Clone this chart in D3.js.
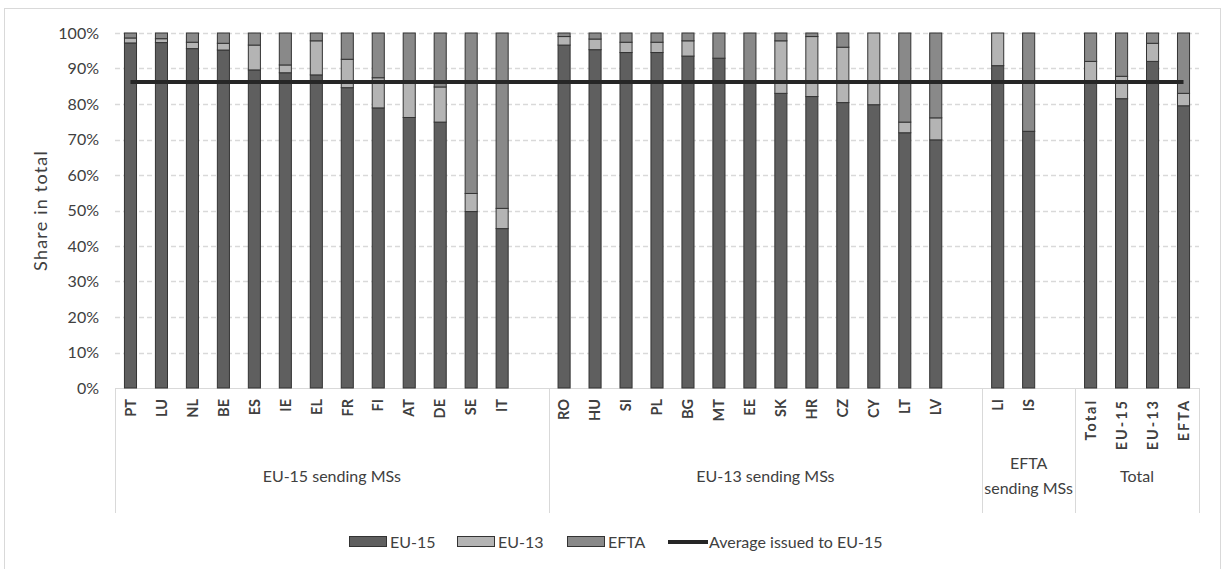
<!DOCTYPE html>
<html>
<head>
<meta charset="utf-8">
<script src="https://cdn.jsdelivr.net/npm/d3@7/dist/d3.min.js"></script>
<style>
  html, body { margin: 0; padding: 0; background: #fff; }
  svg { display: block; font-family: Lato, "Open Sans", sans-serif; }
</style>
</head>
<body>
<svg id="chart" width="1222" height="569"></svg>
<script>
// ---- data ----
const categories = ["PT","LU","NL","BE","ES","IE","EL","FR","FI","AT","DE","SE","IT",
  "RO","HU","SI","PL","BG","MT","EE","SK","HR","CZ","CY","LT","LV",
  "LI","IS",
  "Total","EU-15","EU-13","EFTA"];
const groupLabels = [["EU-15 sending MSs"],["EU-13 sending MSs"],["EFTA","sending MSs"],["Total"]];
const groupSizes = [13, 13, 2, 4];
const eu15 = [97.2,97.3,95.6,95.2,89.6,88.8,88.2,84.6,78.9,76.2,74.9,49.7,44.9,
  96.6,95.3,94.5,94.5,93.5,92.9,86.0,83.0,82.1,80.4,79.8,71.9,69.9,
  90.8,72.3,
  86.2,81.5,92.0,79.5];
const eu13 = [1.4,1.1,1.8,1.9,7.0,2.2,9.6,8.0,8.5,9.8,9.9,5.1,5.7,
  2.4,3.0,2.9,2.9,4.3,0.0,0.0,14.8,16.9,15.6,20.2,3.0,6.2,
  9.2,0.0,
  5.8,6.3,5.1,3.5];
const efta = [1.4,1.6,2.6,2.9,3.4,9.0,2.2,7.4,12.6,14.0,15.2,45.2,49.4,
  1.0,1.7,2.6,2.6,2.2,7.1,14.0,2.2,1.0,4.0,0.0,25.1,23.9,
  0.0,27.7,
  8.0,12.2,2.9,17.0];
const averageEU15 = 86.2;
const yTicks = [0,10,20,30,40,50,60,70,80,90,100];
const seriesNames = ["EU-15","EU-13","EFTA"];
const lineName = "Average issued to EU-15";

// ---- layout ----
const svg = d3.select("#chart");
const plot = {left: 115, right: 1199, top: 33, bottom: 388};
const colors = {"EU-15": "#5f5f5f", "EU-13": "#b4b4b4", "EFTA": "#898989"};
const font = "Lato, 'Open Sans', sans-serif";

// chart border
svg.append("rect").attr("x", 4.5).attr("y", 8.5).attr("width", 1216).attr("height", 580)
  .attr("fill", "none").attr("stroke", "#d9d9d9").attr("stroke-width", 1);

// build slot domain: groups followed by an empty slot (except last)
const slots = [];
const groupRanges = [];
let ci = 0;
groupSizes.forEach((n, g) => {
  const start = slots.length;
  for (let k = 0; k < n; k++) { slots.push("c" + ci); ci++; }
  if (g < groupSizes.length - 1) slots.push("gap" + g);
  groupRanges.push([start, slots.length]);
});

const x = d3.scaleBand().domain(slots).range([plot.left, plot.right])
  .paddingInner(0.61).paddingOuter(0.305);
const y = d3.scaleLinear().domain([0, 100]).range([plot.bottom, plot.top]);

const data = categories.map((c, i) => ({key: "c" + i, name: c, "EU-15": eu15[i], "EU-13": eu13[i], "EFTA": efta[i]}));
const stack = d3.stack().keys(seriesNames)(data);

// gridlines
svg.append("g").selectAll("line").data(yTicks.filter(t => t > 0)).join("line")
  .attr("x1", plot.left).attr("x2", plot.right)
  .attr("y1", d => Math.round(y(d)) + 0.5).attr("y2", d => Math.round(y(d)) + 0.5)
  .attr("stroke", "#d9d9d9").attr("stroke-width", 1.3).attr("stroke-dasharray", "5,3");

// y axis labels
const yAxis = d3.axisLeft(y).tickValues(yTicks).tickFormat(d => d + "%").tickSize(0).tickPadding(16);
const gy = svg.append("g").attr("transform", `translate(${plot.left},0)`).call(yAxis);
gy.select(".domain").remove();
gy.selectAll("text").attr("font-family", font).attr("font-size", 16).attr("fill", "#404040");

svg.append("text").attr("transform", `translate(47,${(plot.top + plot.bottom) / 2}) rotate(-90)`)
  .attr("text-anchor", "middle").attr("font-family", font).attr("font-size", 18)
  .attr("letter-spacing", 1.2)
  .attr("fill", "#404040").text("Share in total");

// category box
const step = x.step();
const boxBottom = 513;
svg.append("line").attr("x1", plot.left).attr("x2", plot.right)
  .attr("y1", plot.bottom + 0.5).attr("y2", plot.bottom + 0.5).attr("stroke", "#d9d9d9");
const bounds = [plot.left].concat(groupRanges.map(r => plot.left + r[1] * step));
svg.append("g").selectAll("line").data(bounds).join("line")
  .attr("x1", d => Math.round(d) + 0.5).attr("x2", d => Math.round(d) + 0.5)
  .attr("y1", plot.bottom).attr("y2", boxBottom).attr("stroke", "#d9d9d9");

// bars
svg.append("g").selectAll("g").data(stack).join("g")
  .attr("fill", d => colors[d.key])
  .selectAll("rect").data(d => d.filter(s => s[1] - s[0] > 0)).join("rect")
  .attr("x", d => x(d.data.key)).attr("width", x.bandwidth())
  .attr("y", d => y(d[1])).attr("height", d => y(d[0]) - y(d[1]))
  .attr("stroke", "#333").attr("stroke-width", 1);

// average line
const firstC = x("c0") + x.bandwidth() / 2;
const lastC = x("c" + (categories.length - 1)) + x.bandwidth() / 2;
svg.append("line").attr("x1", firstC).attr("x2", lastC)
  .attr("y1", y(averageEU15)).attr("y2", y(averageEU15))
  .attr("stroke", "#262626").attr("stroke-width", 4);

// category labels
const totalStart = categories.length - groupSizes[groupSizes.length - 1];
svg.append("g").selectAll("text").data(data).join("text")
  .attr("transform", d => `translate(${x(d.key) + x.bandwidth() / 2},399) rotate(-90)`)
  .attr("text-anchor", "end").attr("dy", "0.36em")
  .attr("font-family", font).attr("font-size", 14.5).attr("font-weight", "bold")
  .attr("letter-spacing", (d, i) => i >= totalStart ? 2 : 0)
  .attr("fill", "#404040").text(d => d.name);

// group labels
groupLabels.forEach((lines, g) => {
  const r = groupRanges[g];
  const cx = plot.left + (r[0] + r[1]) / 2 * step;
  const t = svg.append("text").attr("text-anchor", "middle")
    .attr("font-family", font).attr("font-size", 16).attr("fill", "#404040");
  const y0 = lines.length === 1 ? 482 : 469;
  lines.forEach((ln, k) => t.append("tspan").attr("x", cx).attr("y", y0 + k * 25).text(ln));
});

// legend
const ly = 542;
const legendItems = [
  {name: seriesNames[0], x: 349, type: "rect"},
  {name: seriesNames[1], x: 457, type: "rect"},
  {name: seriesNames[2], x: 567, type: "rect"},
  {name: lineName, x: 668, type: "line"}
];
const lg = svg.append("g");
legendItems.forEach(it => {
  if (it.type === "rect") {
    lg.append("rect").attr("x", it.x + 0.5).attr("y", ly - 5.5).attr("width", 37).attr("height", 10)
      .attr("fill", colors[it.name]).attr("stroke", "#333");
  } else {
    lg.append("line").attr("x1", it.x).attr("x2", it.x + 40).attr("y1", ly).attr("y2", ly)
      .attr("stroke", "#262626").attr("stroke-width", 4);
  }
  lg.append("text").attr("x", it.x + 41).attr("y", ly).attr("dy", "0.35em")
    .attr("font-family", font).attr("font-size", 16).attr("fill", "#404040").text(it.name);
});
</script>
</body>
</html>
